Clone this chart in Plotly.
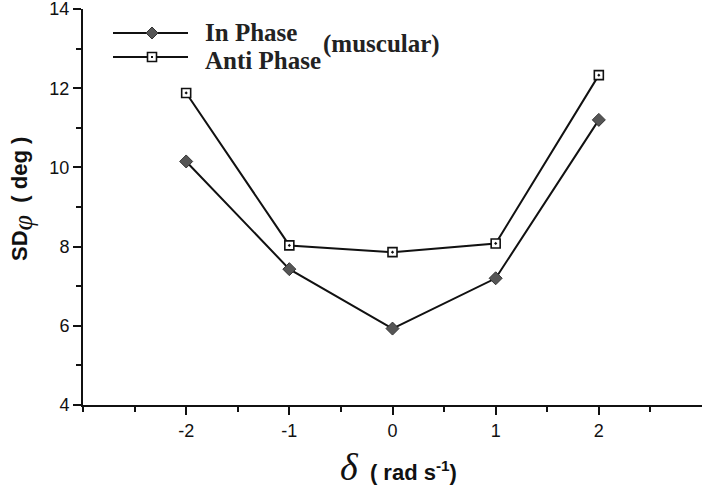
import plotly.graph_objects as go

delta = [-2, -1, 0, 1, 2]
in_phase = [10.15, 7.43, 5.93, 7.2, 11.2]
anti_phase = [11.88, 8.03, 7.86, 8.08, 12.33]
x_ticks = [-2, -1, 0, 1, 2]
x_ticktext = ["-2", "-1", "0", "1", "2"]
x_minor = [-3, -2.5, -1.5, -0.5, 0.5, 1.5, 2.5]
y_ticks = [4, 6, 8, 10, 12, 14]
y_minor = [5, 7, 9, 11, 13]

serif = "Liberation Serif"
sans = "Liberation Sans"

# plot area in pixels (for placing decoration in paper coords)
L, R, T, B = 83, 0, 9, 82
W, H = 702, 487
PW, PH = W - L - R, H - T - B


def px(x):
    return (x - L) / PW


def py(y):
    return (H - B - y) / PH


fig = go.Figure()
fig.add_trace(go.Scatter(x=delta, y=in_phase, mode="lines+markers", name="In Phase",
                         line=dict(color="#111", width=2),
                         marker=dict(symbol="diamond", size=10, color="#555",
                                     line=dict(color="#333", width=1))))
fig.add_trace(go.Scatter(x=delta, y=anti_phase, mode="lines+markers", name="Anti Phase",
                         line=dict(color="#111", width=2),
                         marker=dict(symbol="square-dot", size=9, color="white",
                                     line=dict(color="#111", width=1.6))))

shapes = []
for yy in (33, 57):
    shapes.append(dict(type="line", xref="paper", yref="paper", x0=px(113), x1=px(188),
                       y0=py(yy), y1=py(yy), line=dict(color="#111", width=2)))
# diamond sample
shapes.append(dict(type="path", xref="paper", yref="paper", xsizemode="pixel", ysizemode="pixel",
                   xanchor=px(152), yanchor=py(33), path="M 0 6 L 6 0 L 0 -6 L -6 0 Z",
                   fillcolor="#555", line=dict(color="#333", width=1)))
# square sample
shapes.append(dict(type="rect", xref="paper", yref="paper", xsizemode="pixel", ysizemode="pixel",
                   xanchor=px(152), yanchor=py(57), x0=-4.5, x1=4.5, y0=-4.5, y1=4.5,
                   fillcolor="white", line=dict(color="#111", width=1.6)))
shapes.append(dict(type="rect", xref="paper", yref="paper", xsizemode="pixel", ysizemode="pixel",
                   xanchor=px(152), yanchor=py(57), x0=-1, x1=1, y0=-1, y1=1,
                   fillcolor="#111", line=dict(width=0)))

annotations = [
    dict(x=px(203), y=py(33), xref="paper", yref="paper", text="<b>In Phase</b>", showarrow=False,
         xanchor="left", yanchor="middle", font=dict(family=serif, size=25, color="#222")),
    dict(x=px(203), y=py(60), xref="paper", yref="paper", text="<b>Anti Phase</b>", showarrow=False,
         xanchor="left", yanchor="middle", font=dict(family=serif, size=25, color="#222")),
    dict(x=px(321), y=py(44), xref="paper", yref="paper", text="<b>(muscular)</b>", showarrow=False,
         xanchor="left", yanchor="middle", font=dict(family=serif, size=25, color="#222")),
    dict(x=px(22), y=py(199), xref="paper", yref="paper", textangle=-90, showarrow=False,
         xanchor="center", yanchor="middle",
         text="<b>SD</b><sub><span style='font-family:Liberation Serif;font-size:28px'><i>φ</i></span></sub>"
              "<b>  ( deg )</b>",
         font=dict(family=sans, size=22, color="#111")),
    dict(x=px(398), y=py(467), xref="paper", yref="paper", showarrow=False,
         xanchor="center", yanchor="middle",
         text="<span style='font-family:Liberation Serif;font-size:38px'><i>δ</i></span>"
              "<b>  ( rad s</b><sup><b>-1</b></sup><b>)</b>",
         font=dict(family=sans, size=22, color="#111")),
]

fig.update_layout(
    width=W, height=H,
    margin=dict(l=L, r=R, t=T, b=B),
    paper_bgcolor="white", plot_bgcolor="white",
    showlegend=False,
    xaxis=dict(range=[-3, 3], tickvals=x_ticks, ticktext=x_ticktext,
               showgrid=False, zeroline=False, showline=True, linecolor="#111", linewidth=2,
               ticks="outside", ticklen=8, tickwidth=2, tickcolor="#111",
               ticklabeloverflow="allow",
               tickfont=dict(family=sans, size=18, color="#111"),
               minor=dict(tickvals=x_minor, ticks="outside", ticklen=5, tickwidth=2,
                          tickcolor="#111", showgrid=False)),
    yaxis=dict(range=[4, 14], tickvals=y_ticks,
               showgrid=False, zeroline=False, showline=True, linecolor="#111", linewidth=2,
               ticks="outside", ticklen=8, tickwidth=2, tickcolor="#111",
               ticklabeloverflow="allow",
               tickfont=dict(family=sans, size=18, color="#111"),
               minor=dict(tickvals=y_minor, ticks="outside", ticklen=5, tickwidth=2,
                          tickcolor="#111", showgrid=False)),
    shapes=shapes,
    annotations=annotations,
)

fig.write_html("out.html")
